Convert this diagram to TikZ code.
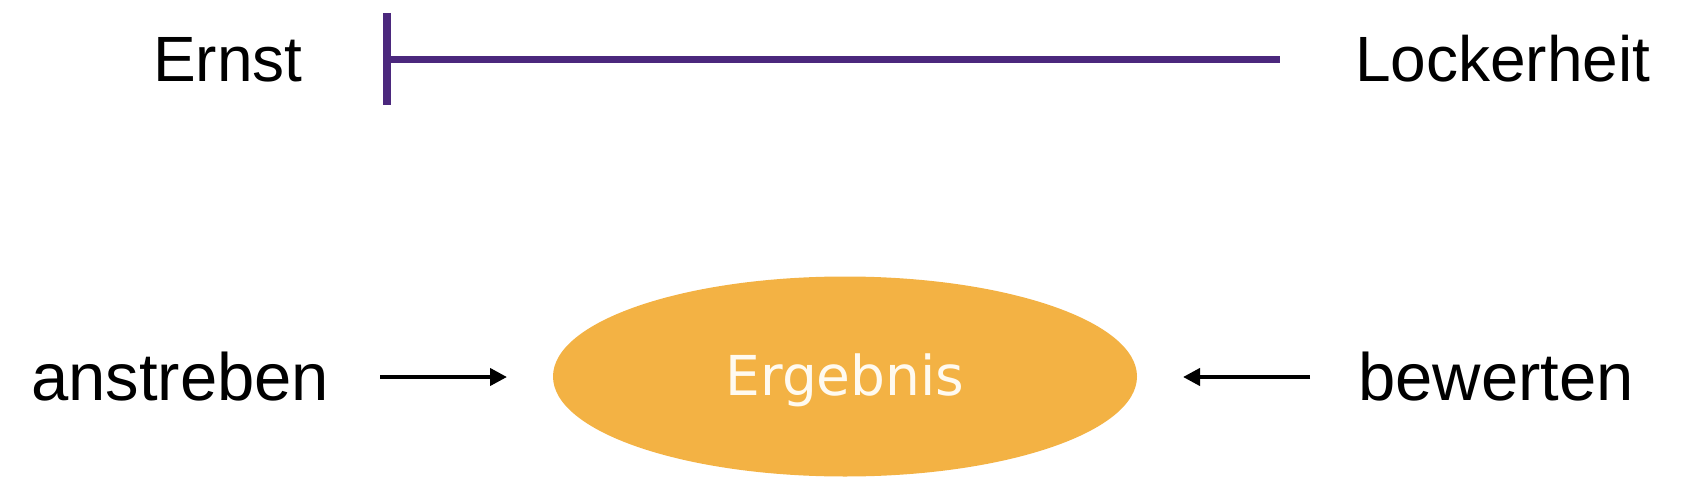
\documentclass[tikz,border=0pt]{standalone}
\usepackage{fontspec}
\setmainfont{Liberation Sans}
\newfontfamily\ergfont{DejaVu Sans}
\usetikzlibrary{arrows.meta,shapes.geometric}
\definecolor{barpurple}{RGB}{75,40,125}
\definecolor{ellorange}{RGB}{243,178,68}
\definecolor{cream}{RGB}{255,250,240}
\tikzset{
  toplabel/.style={inner sep=0pt, anchor=base west, font=\fontsize{64}{76}\selectfont},
  botlabel/.style={inner sep=0pt, anchor=base west, font=\fontsize{67}{80}\selectfont},
  scaleline/.style={draw=barpurple, line width=7.5pt},
  flowarrow/.style={draw=black, line width=4pt, -{Triangle[length=17pt,width=17pt]}},
  resultshape/.style={ellipse, fill=ellorange, draw=none, minimum width=584pt, minimum height=200pt, inner sep=0pt},
  resultlabel/.style={inner sep=0pt, anchor=base, text=cream, font=\ergfont\fontsize{55}{66}\selectfont}
}
\begin{document}
\begin{tikzpicture}[x=1pt,y=-1pt]
\useasboundingbox (0,0) rectangle (1686,492);
% top scale
\node[toplabel] (ernst) at (153,82) {Ernst};
\node[toplabel] (locker) at (1355,82) {Lockerheit};
\coordinate (bartop) at (387,13);
\coordinate (barbot) at (387,105);
\coordinate (linestart) at (387,59.5);
\coordinate (lineend) at (1280,59.5);
\draw[scaleline] (linestart) -- (lineend);
\draw[scaleline, line width=8pt] (bartop) -- (barbot);
% bottom row
\node[resultshape] (erg) at (845,376.5) {};
\node[resultlabel] (ergtext) at (845,395) {Ergebnis};
\node[botlabel] (anst) at (31,400) {anstreben};
\node[botlabel] (bew) at (1358,400) {bewerten};
\coordinate (la) at (380,377);
\coordinate (lb) at (507,377);
\coordinate (ra) at (1310,377);
\coordinate (rb) at (1183,377);
\draw[flowarrow] (la) -- (lb);
\draw[flowarrow] (ra) -- (rb);
\end{tikzpicture}
\end{document}
